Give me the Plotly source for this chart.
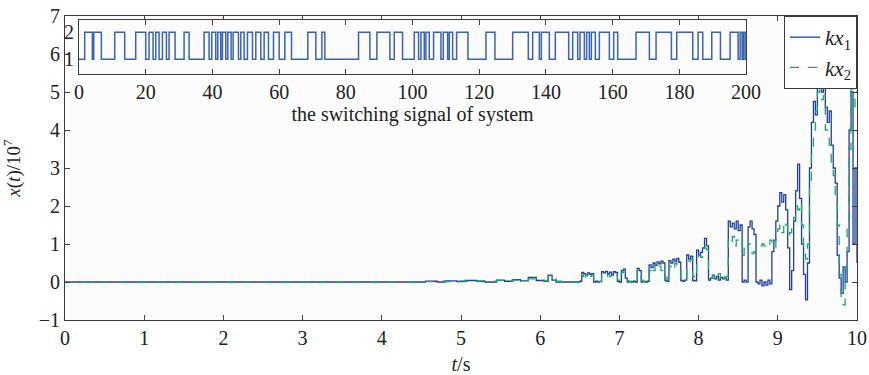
import plotly.graph_objects as go

# ---------------- data ----------------
# early (quiet) part of the trajectories
early_t = [0, 4.45, 4.55, 4.7, 4.8, 4.95, 5.05, 5.2, 5.3, 5.45, 5.55, 5.65, 5.75,
           5.85, 5.95, 6.05, 6.1, 6.15, 6.2, 6.3]
kx1_early = [0, 0.0, 0.02, 0.0, 0.03, 0.01, 0.04, 0.02, 0.0, 0.05, 0.02, 0.06, 0.03,
             0.12, 0.04, 0.02, 0.18, 0.05, 0.0, 0.0]
kx2_early = [0, 0.0, 0.01, 0.02, 0.01, 0.03, 0.02, 0.03, 0.02, 0.04, 0.03, 0.05, 0.04,
             0.08, 0.05, 0.03, 0.12, 0.1, 0.02, 0.0]

# later part, sampled every 0.025 s from 6.4 s to 10 s
late_t0 = 6.4
late_dt = 0.025
kx1_late = [0, 0, 0.01, 0, 0.02, 0.25, 0.22, 0.18, 0.24, 0.2,
            0.22, 0.0, 0.02, 0.0, 0.01, 0.27, 0.24, 0.28, 0.22, 0.26,
            0.18, 0.27, 0.25, 0.02, 0.0, 0.3, 0.34, 0.1, 0.0, 0.01,
            0.0, 0.02, 0.0, 0.36, 0.3, 0.0, 0.01, 0.0, 0.02, 0.45,
            0.38, 0.5, 0.44, 0.53, 0.48, 0.55, 0.5, 0.04, 0.02, 0.56,
            0.5, 0.6, 0.55, 0.62, 0.52, 0.04, 0.02, 0.05, 0.71, 0.6,
            0.68, 0.04, 0.03, 0.84, 0.7, 0.78, 0.9, 1.15, 0.95, 0.05,
            0.1, 0.18, 0.08, 0.15, 0.05, 0.12, 0.08, 0.1, 0.05, 1.6,
            1.45, 1.55, 1.4, 1.6, 1.35, 1.5, 0.0, 0.05, 0.0, 1.45,
            1.6, 1.4, 1.25, 0.0, -0.05, 0.05, -0.1, 0.0, -0.08, 0.05,
            -0.05, 0.8, 1.1, 1.6, 2.0, 2.35, 2.1, 2.3, 1.9, 0.9,
            -0.2, 0.3, 1.6, 2.4, 3.1, 2.2, 1.0, 0.2, -0.47, 0.5,
            3.0, 4.2, 4.75, 4.4, 5.2, 5.8, 5.0, 5.5, 4.6, 4.2,
            4.5, 3.6, 3.0, 2.6, 0.7, 0.1, -0.3, 0.4, 0.0, 0.8,
            4.0, 5.0, 1.0, 3.0, 0.5]
kx2_late = [0, 0, 0, 0.01, 0, 0.15, 0.2, 0.12, 0.2, 0.15,
            0.18, 0.05, 0.03, 0.05, 0.02, 0.2, 0.22, 0.15, 0.2, 0.14,
            0.22, 0.2, 0.18, 0.05, 0.02, 0.25, 0.3, 0.12, 0.03, 0.0,
            0.02, 0.0, 0.02, 0.3, 0.25, 0.05, 0.02, 0.01, 0.0, 0.3,
            0.4, 0.3, 0.45, 0.35, 0.42, 0.3, 0.35, 0.12, 0.05, 0.4,
            0.45, 0.35, 0.5, 0.45, 0.4, 0.1, 0.05, 0.08, 0.5, 0.55,
            0.6, 0.15, 0.08, 0.6, 0.7, 0.65, 0.8, 0.9, 0.85, 0.3,
            0.2, 0.1, 0.2, 0.12, 0.22, 0.1, 0.2, 0.1, 0.15, 1.1,
            1.0, 1.2, 0.95, 1.1, 1.05, 1.15, 0.7, 0.9, 0.8, 1.0,
            0.85, 0.75, 0.8, 0.85, 0.9, 0.95, 1.0, 0.95, 1.05, 1.0,
            1.1, 1.0, 0.9, 1.2, 1.4, 1.5, 1.3, 1.6, 1.5, 1.2,
            1.3, 1.4, 1.7, 2.0, 1.9, 2.1, 1.5, 0.9, 0.6, 1.0,
            2.5, 3.5, 4.0, 4.5, 5.0, 5.5, 4.8, 4.9, 4.0, 3.8,
            3.6, 3.0, 2.8, 2.2, 1.5, 0.2, -0.4, -0.6, 0.0, 1.5,
            3.5, 6.0, 4.5, 5.5, 5.0]

# switching signal: intervals where sigma = 2 (otherwise sigma = 1)
switch_on = [1.7, 4.4, 10.7, 17.0, 21.0, 23.0, 25.0, 27.0, 31.5, 37.5, 39.8, 41.6,
             43.0, 44.6, 46.2, 48.5, 50.5, 53.0, 55.5, 58.3, 61.7, 68.6, 72.8, 83.8,
             89.3, 94.5, 100.5, 102.5, 104.0, 106.3, 109.2, 111.0, 113.2, 122.0,
             130.0, 136.0, 138.6, 142.8, 148.0, 150.2, 152.2, 153.6, 156.0, 160.3,
             167.0, 173.0, 179.2, 185.6, 189.7, 195.2, 198.2, 199.2]
switch_off = [4.0, 6.7, 13.7, 20.0, 22.2, 24.0, 26.2, 28.8, 33.0, 39.0, 41.0, 42.5,
              44.0, 45.6, 47.8, 49.5, 52.0, 54.5, 56.8, 60.0, 63.7, 71.0, 73.7, 87.2,
              93.2, 97.0, 101.8, 103.5, 105.0, 108.5, 110.5, 112.0, 116.6, 124.7,
              134.7, 138.0, 141.0, 146.8, 149.5, 151.5, 153.0, 154.8, 159.0, 161.5,
              171.0, 177.6, 184.0, 187.0, 192.3, 197.6, 198.8, 199.7]
sig_end = 200

main_xticks = list(range(0, 11))
main_yticks = list(range(-1, 8))
inset_xticks = list(range(0, 201, 20))

# ---------------- build series ----------------
late_t = [round(late_t0 + late_dt * i, 4) for i in range(len(kx1_late))]
t_all = early_t + late_t
kx1 = kx1_early + kx1_late
kx2 = kx2_early + kx2_late

sig_t = [0]
sig_v = [1]
for a, b in zip(switch_on, switch_off):
    sig_t += [a, b]
    sig_v += [2, 1]
sig_t.append(sig_end)
sig_v.append(1)

SERIF = "Liberation Serif, Times New Roman, serif"
AX = "#3a3a3a"

fig = go.Figure()
fig.add_trace(go.Scatter(x=t_all, y=kx1, mode="lines", line_shape="hv",
                         line=dict(color="#1f3f9c", width=1.3),
                         name="<i>kx</i><sub>1</sub>"))
fig.add_trace(go.Scatter(x=t_all, y=kx2, mode="lines", line_shape="hv",
                         line=dict(color="#1fa56a", width=1.3, dash="dash"),
                         name="<i>kx</i><sub>2</sub>"))
fig.add_trace(go.Scatter(x=sig_t, y=sig_v, mode="lines", line_shape="hv",
                         line=dict(color="#3b63b5", width=1.5),
                         xaxis="x2", yaxis="y2", showlegend=False))

fig.update_layout(
    width=869, height=375,
    margin=dict(l=65, r=12, t=16, b=55),
    paper_bgcolor="white", plot_bgcolor="#fcfcfc",
    font=dict(family=SERIF, size=20, color="#222"),
    showlegend=True,
    legend=dict(x=1.0, y=1.0, xanchor="right", yanchor="top",
                bgcolor="white", bordercolor=AX, borderwidth=1,
                font=dict(family=SERIF, size=21), tracegroupgap=2),
    xaxis=dict(range=[0, 10], tickvals=main_xticks, ticks="inside", ticklen=5,
               showline=True, linecolor=AX, linewidth=1, mirror="ticks",
               showgrid=False, zeroline=False, automargin=False,
               title=dict(text="<i>t</i>/s", standoff=10, font=dict(size=20))),
    yaxis=dict(range=[-1, 7], tickvals=main_yticks, ticks="inside", ticklen=5,
               showline=True, linecolor=AX, linewidth=1, mirror="ticks",
               showgrid=False, zeroline=False, automargin=False,
               title=dict(text="<i>x</i>(<i>t</i>)/10<sup>7</sup>", standoff=14,
                          font=dict(size=19))),
    xaxis2=dict(domain=[0.0177, 0.86], anchor="y2", range=[0, 200],
                tickvals=inset_xticks, ticks="inside", ticklen=5,
                showline=True, linecolor=AX, linewidth=1, mirror="ticks",
                showgrid=False, zeroline=False, automargin=False,
                title=dict(text="the switching signal of system", standoff=4,
                           font=dict(size=20))),
    yaxis2=dict(domain=[0.809, 0.987], anchor="x2", range=[0.45, 2.45],
                tickvals=[1, 2], ticks="", showline=True, linecolor=AX,
                linewidth=1, mirror=True, showgrid=False, zeroline=False,
                automargin=False, ticklabelstandoff=0),
)
fig.add_shape(type="rect", xref="x2 domain", yref="y2 domain", x0=0, x1=1,
              y0=0, y1=1, fillcolor="white", line=dict(width=0), layer="below")

fig.write_html("out.html")
